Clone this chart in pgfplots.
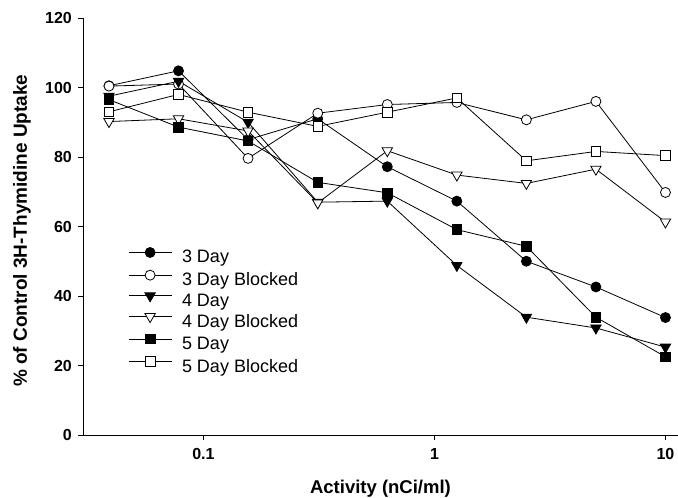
\documentclass[border=0pt]{standalone}
\usepackage{pgfplots}
\pgfplotsset{compat=1.18}
\usepackage{fontspec}
\setmainfont{Liberation Sans}
\begin{document}
\begin{tikzpicture}
\begin{axis}[
  scale only axis, width=595pt, height=417pt,
  xmode=log, xmin=0.0301, xmax=11.33, ymin=0, ymax=120,
  axis x line*=bottom, axis y line*=left,
  xtick={0.1,1,10}, xticklabels={0.1,1,10}, xminorticks=false,
  ytick={0,20,40,60,80,100,120},
  tick align=outside, major tick length=5pt,
  tick style={black, line width=0.8pt},
  axis line style={black, line width=0.9pt},
  /pgf/number format/assume math mode=true,
  ticklabel style={font=\fontsize{16}{16}\selectfont\bfseries},
  yticklabel style={anchor=east, inner sep=0pt, xshift=-6pt},
  xticklabel style={anchor=north, inner sep=0pt, yshift=-8pt},
  xlabel={Activity (nCi/ml)},
  xlabel style={at={(axis description cs:0.5,0)}, anchor=north, yshift=-45pt, inner sep=0pt, font=\fontsize{18.5}{18.5}\selectfont\bfseries},
  ylabel={\% of Control 3H-Thymidine Uptake},
  ylabel style={at={(axis description cs:-0.1176,0.49)}, anchor=north, inner sep=0pt, font=\fontsize{19}{19}\selectfont\bfseries},
  legend style={at={(axis description cs:0.0706,0.455)}, anchor=north west, draw=none, fill=none,
    font=\fontsize{18}{18}\selectfont, row sep=3.2pt, column sep=10pt,
    nodes={inner sep=0pt, text height=13pt, text depth=4pt}},
  legend cell align=left,
  legend image code/.code={\draw[mark repeat=2,mark phase=2,#1] plot coordinates {(0pt,6pt) (21.5pt,6pt) (43pt,6pt)};},
  every axis plot/.append style={black, line width=0.8pt},
]
\addplot[mark=*, mark size=5pt, mark options={solid, fill=black}] coordinates {
(0.039,100.5) (0.078,104.8) (0.156,85) (0.3125,91) (0.625,77.2) (1.25,67.3) (2.5,50) (5,42.6) (10,33.8)};
\addlegendentry{3 Day}
\addplot[mark=*, mark size=5pt, mark options={solid, fill=white}] coordinates {
(0.039,100.4) (0.078,101) (0.156,79.6) (0.3125,92.6) (0.625,95.1) (1.25,95.7) (2.5,90.7) (5,96) (10,69.8)};
\addlegendentry{3 Day Blocked}
\addplot[mark=triangle*, mark size=6pt, mark options={solid, rotate=180, fill=black}] coordinates {
(0.039,97.5) (0.078,101.8) (0.156,90) (0.3125,67) (0.625,67.3) (1.25,48.8) (2.5,33.9) (5,30.8) (10,25.3)};
\addlegendentry{4 Day}
\addplot[mark=triangle*, mark size=6pt, mark options={solid, rotate=180, fill=white}] coordinates {
(0.039,90.2) (0.078,91) (0.156,87.5) (0.3125,66.8) (0.625,81.8) (1.25,74.8) (2.5,72.4) (5,76.5) (10,61.3)};
\addlegendentry{4 Day Blocked}
\addplot[mark=square*, mark size=4.8pt, mark options={solid, fill=black}] coordinates {
(0.039,96.5) (0.078,88.6) (0.156,84.6) (0.3125,72.7) (0.625,69.7) (1.25,59.1) (2.5,54.3) (5,33.9) (10,22.5)};
\addlegendentry{5 Day}
\addplot[mark=square*, mark size=4.8pt, mark options={solid, fill=white}] coordinates {
(0.039,93) (0.078,98) (0.156,92.9) (0.3125,88.8) (0.625,92.9) (1.25,97) (2.5,78.9) (5,81.6) (10,80.4)};
\addlegendentry{5 Day Blocked}
\end{axis}
\pgfresetboundingbox
\useasboundingbox (-83pt,-63pt) rectangle (595pt,435pt);
\end{tikzpicture}
\end{document}
